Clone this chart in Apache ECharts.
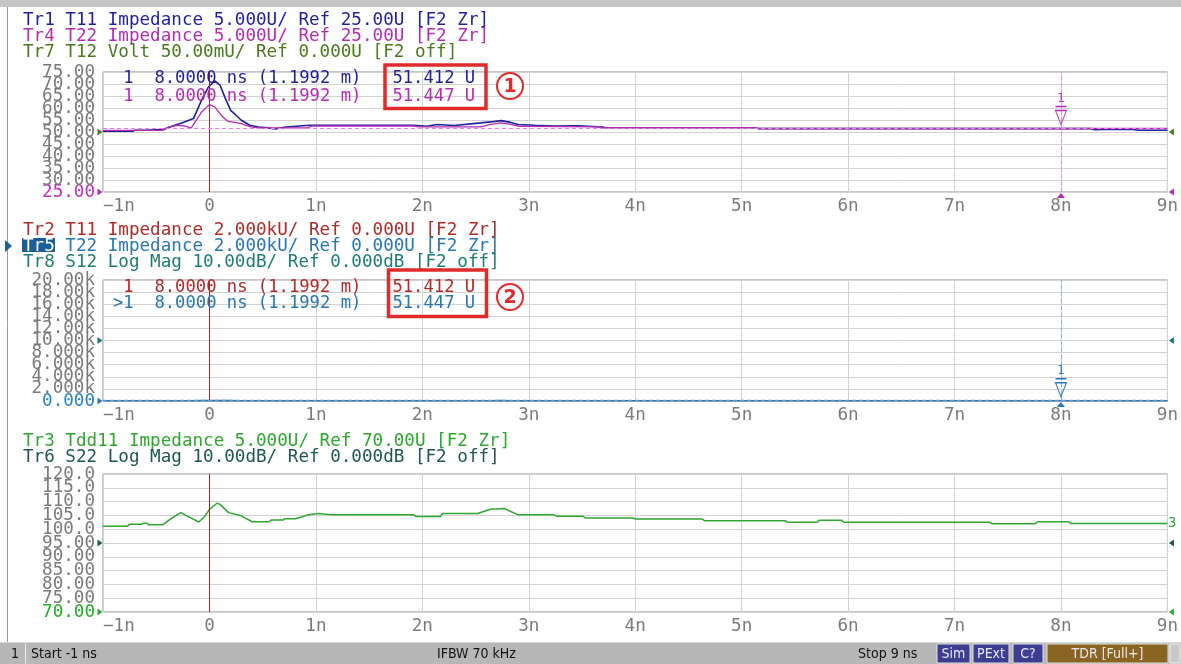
<!DOCTYPE html>
<html><head><meta charset="utf-8">
<script src="https://cdn.jsdelivr.net/npm/echarts@6.0.0/dist/echarts.min.js"></script>
<style>html,body{margin:0;padding:0;background:#fff;overflow:hidden}#c{width:1181px;height:664px;}</style>
</head><body><div id="c"></div>
<script>
// ---------------- data ----------------
const xMin = -1, xMax = 9, xInterval = 1;
const xTickLabels = ['\u22121n','0','1n','2n','3n','4n','5n','6n','7n','8n','9n'];
const topTickLabels = ['25.00','30.00','35.00','40.00','45.00','50.00','55.00','60.00','65.00','70.00','75.00'];
const midTickLabels = ['0.000','2.000k','4.000k','6.000k','8.000k','10.00k','12.00k','14.00k','16.00k','18.00k','20.00k'];
const botTickLabels = ['70.00','75.00','80.00','85.00','90.00','95.00','100.0','105.0','110.0','115.0','120.0'];

// T11 impedance (Tr1 / Tr2), ns and U
const t11Time = [-1.0,-0.72,-0.70,-0.6,-0.43,-0.34,-0.26,-0.15,-0.075,-0.01,0.05,0.1,0.15,0.2,0.3,0.38,0.46,0.55,0.62,0.72,0.94,1.92,2.04,2.14,2.3,2.55,2.64,2.74,2.83,2.9,3.06,3.24,3.47,3.69,3.72,5.12,5.16,8.28,8.32,8.4,8.68,8.72,9.0];
const t11Values = [50.3,50.3,50.7,50.7,51.0,52.6,53.75,55.6,63.2,68.75,71.25,69.5,63.9,59.0,54.9,52.8,52.1,51.7,51.3,52.1,52.8,52.8,52.4,53.1,52.7,53.8,54.2,54.75,54.0,53.1,52.8,52.5,52.6,52.1,51.8,51.8,51.4,51.4,51.0,51.1,51.1,50.7,50.7];
// T22 impedance (Tr4 / Tr5)
const t22Time = [-1.0,-0.45,-0.38,-0.3,-0.24,-0.17,-0.075,0.0,0.05,0.11,0.17,0.3,0.39,0.46,0.92,0.96,1.92,1.96,2.55,2.64,2.74,2.83,2.9,3.69,3.72,5.12,5.16,9.0];
const t22Values = [50.7,50.7,52.1,52.8,52.6,51.7,58.3,61.4,60.5,57.0,54.5,53.5,52.1,51.7,51.7,52.5,52.5,52.1,52.1,53.2,53.8,53.2,52.4,52.1,51.8,51.8,51.45,51.45];
// Tdd11 impedance (Tr3)
const tdd11Time = [-1.0,-0.77,-0.75,-0.64,-0.62,-0.59,-0.57,-0.44,-0.36,-0.27,-0.18,-0.10,-0.04,0.0,0.07,0.10,0.18,0.29,0.40,0.56,0.58,0.69,0.71,0.81,0.94,1.03,1.14,1.32,1.33,1.38,1.92,1.94,2.17,2.19,2.52,2.64,2.77,2.90,3.24,3.26,3.51,3.53,3.98,4.0,4.63,4.65,5.41,5.43,5.71,5.73,5.94,5.96,7.33,7.35,7.76,7.78,8.07,8.09,9.0];
const tdd11Values = [101.1,101.1,101.75,101.75,102.2,102.2,101.6,101.6,103.8,106.0,104.2,102.6,104.8,107.2,109.4,109.0,106.0,105.0,102.7,102.7,103.3,103.3,103.8,103.8,105.3,105.7,105.2,105.2,105.6,105.2,105.2,104.6,104.6,105.7,105.7,107.2,107.5,105.2,105.2,104.7,104.7,104.1,104.1,103.7,103.7,103.1,103.1,102.5,102.5,103.2,103.2,102.5,102.5,102.0,102.0,102.7,102.7,102.1,102.1];

const markerTime = 8.0;
const markerT11 = 51.412;
const markerT22 = 51.447;

const headerTop = ['Tr1 T11 Impedance 5.000U/ Ref 25.00U [F2 Zr]','Tr4 T22 Impedance 5.000U/ Ref 25.00U [F2 Zr]','Tr7 T12 Volt 50.00mU/ Ref 0.000U [F2 off]'];
const headerMid = ['Tr2 T11 Impedance 2.000kU/ Ref 0.000U [F2 Zr]','Tr5 T22 Impedance 2.000kU/ Ref 0.000U [F2 Zr]','Tr8 S12 Log Mag 10.00dB/ Ref 0.000dB [F2 off]'];
const headerBot = ['Tr3 Tdd11 Impedance 5.000U/ Ref 70.00U [F2 Zr]','Tr6 S22 Log Mag 10.00dB/ Ref 0.000dB [F2 off]'];
const readoutT11 = ' 1  8.0000 ns (1.1992 m)   51.412 U';
const readoutT22 = ' 1  8.0000 ns (1.1992 m)   51.447 U';
const readoutT22b = '>1  8.0000 ns (1.1992 m)   51.447 U';

// ---------------- style ----------------
const MONO = "'DejaVu Sans Mono', monospace";
const FONT = "17.6px 'DejaVu Sans Mono', monospace";
const RFONT = "17.2px 'DejaVu Sans Mono', monospace";
const NARROW = "'Liberation Sans Narrow','DejaVu Sans Condensed','Arial Narrow',sans-serif";
const C = {
  tr1:'#1f1f9c', tr4:'#b32db3', tr7:'#4a7a1e', tr2:'#b02a2a', tr5:'#2876b2', tr8:'#1e7d72',
  tr3:'#2ea72e', tr6:'#1d5652', brown:'#8b2b2b', grid:'#d2d2d2', border:'#8c8c8c', lab:'#7a7a7a', red:'#e12b2b'
};
const zip = (a, b) => a.map((t, i) => [t, b[i]]);

const gridsDef = [
  {top:72, height:120},
  {top:280, height:121},
  {top:474, height:138}
];
const grid = gridsDef.map(g => ({left:103, width:1069, top:g.top, height:g.height, show:true, borderColor:C.border, borderWidth:1, backgroundColor:'transparent'}));

const xAxis = [0,1,2].map(i => ({
  type:'value', gridIndex:i, min:xMin, max:xMax, interval:xInterval,
  axisLine:{show:false}, axisTick:{show:false},
  splitLine:{show:true, lineStyle:{color:C.grid, width:1}},
  axisLabel:{margin:5, color:C.lab, fontFamily:MONO, fontSize:17.6, alignMinLabel:'left', showMinLabel:true, showMaxLabel:true,
    formatter: v => xTickLabels[Math.round((v - xMin) / xInterval)]}
}));

// value axes carry the data scale; category axes print every tick label (no overlap hiding)
function yVal(i, min, max, interval) {
  return {type:'value', gridIndex:i, min, max, interval,
    axisLine:{show:false}, axisTick:{show:false}, axisLabel:{show:false},
    splitLine:{show:true, lineStyle:{color:C.grid, width:1}}};
}
function yLab(i, labels, minColor) {
  return {type:'category', gridIndex:i, data:labels, boundaryGap:false, position:'left',
    axisLine:{show:false}, axisTick:{show:false}, splitLine:{show:false},
    axisLabel:{interval:0, margin:8, fontFamily:MONO, fontSize:17.6,
      color: (v) => (v === labels[0] ? minColor : C.lab)}};
}
const yAxis = [
  yVal(0, 25, 75, 5), yVal(1, 0, 20000, 2000), yVal(2, 70, 120, 5),
  yLab(0, topTickLabels, '#c02fc0'), yLab(1, midTickLabels, '#2a82c8'), yLab(2, botTickLabels, '#22ad22')
];

const noLabel = {show:false};
function triRight(coord, color) { return {coord, symbol:'triangle', symbolSize:[7,5], symbolRotate:-90, symbolOffset:[-3,0], itemStyle:{color}, label:noLabel}; }
function triLeft(coord, color) { return {coord, symbol:'triangle', symbolSize:[7,5], symbolRotate:90, symbolOffset:[4,0], itemStyle:{color}, label:noLabel}; }
function triUp(coord, color) { return {coord, symbol:'triangle', symbolSize:[8,5], symbolOffset:[0,3.5], itemStyle:{color}, label:noLabel}; }
function markerSym(coord, color) {
  return {coord, symbol:'path://M0,0L12,0M0,4L12,4L6,18Z', symbolSize:[11,18], symbolOffset:[0,-13],
    itemStyle:{color:'rgba(0,0,0,0)', borderColor:color, borderWidth:1.1},
    label:{show:true, formatter:'1', position:'top', distance:1, color, fontFamily:MONO, fontSize:12}};
}
const vLine0 = {xAxis:0, lineStyle:{type:'solid', color:C.brown, width:1}};

const series = [
  {name:'Tr1', type:'line', xAxisIndex:0, yAxisIndex:0, data:zip(t11Time, t11Values), showSymbol:false,
    lineStyle:{color:C.tr1, width:1.6}, z:3, animation:false},
  {name:'Tr4', type:'line', xAxisIndex:0, yAxisIndex:0, data:zip(t22Time, t22Values), showSymbol:false,
    lineStyle:{color:C.tr4, width:1.3}, z:4, animation:false,
    markLine:{silent:true, symbol:['none','none'], label:{show:false}, animation:false, data:[
      vLine0,
      {xAxis:markerTime, lineStyle:{type:[4,3], color:'#e98ae9', width:1}},
      {yAxis:markerT22, lineStyle:{type:[4,3], color:'#ef7cef', width:1}}
    ]},
    markPoint:{silent:true, animation:false, data:[
      markerSym([markerTime, markerT22], C.tr4),
      triUp([markerTime, 25], C.tr4),
      triRight([xMin, 25], C.tr4),
      triLeft([xMax, 25], C.tr4),
      triRight([xMin, 50], C.tr7),
      triLeft([xMax, 50], C.tr7)
    ]}},
  {name:'Tr2', type:'line', xAxisIndex:1, yAxisIndex:1, data:zip(t11Time, t11Values), showSymbol:false,
    lineStyle:{color:C.tr2, width:1.3}, z:3, animation:false},
  {name:'Tr5', type:'line', xAxisIndex:1, yAxisIndex:1, data:zip(t22Time, t22Values), showSymbol:false,
    lineStyle:{color:C.tr5, width:1.6}, z:4, animation:false,
    markLine:{silent:true, symbol:['none','none'], label:{show:false}, animation:false, data:[
      vLine0,
      {xAxis:markerTime, lineStyle:{type:[4,3], color:'#86aee6', width:1}},
      {yAxis:markerT22, lineStyle:{type:[4,3], color:'#5a9ee0', width:1.4}}
    ]},
    markPoint:{silent:true, animation:false, data:[
      markerSym([markerTime, markerT22], C.tr5),
      triUp([markerTime, 0], C.tr5),
      triRight([xMin, 0], C.tr5),
      triRight([xMin, 10000], C.tr8),
      triLeft([xMax, 10000], C.tr8)
    ]}},
  {name:'Tr3', type:'line', xAxisIndex:2, yAxisIndex:2, data:zip(tdd11Time, tdd11Values), showSymbol:false,
    lineStyle:{color:C.tr3, width:1.5}, z:4, animation:false,
    markLine:{silent:true, symbol:['none','none'], label:{show:false}, animation:false, data:[vLine0]},
    markPoint:{silent:true, animation:false, data:[
      triRight([xMin, 70], C.tr3),
      triLeft([xMax, 70], C.tr3),
      triRight([xMin, 95], C.tr6),
      triLeft([xMax, 95], C.tr6),
      {coord:[xMax, tdd11Values[tdd11Values.length-1]], symbol:'circle', symbolSize:1, itemStyle:{color:'rgba(0,0,0,0)'},
        label:{show:true, formatter:'3', position:'right', distance:0, color:C.tr3, fontFamily:MONO, fontSize:14}}
    ]}}
];

// ---------------- decorations (text) ----------------
function txt(x, y, text, fill, font, extra) {
  return Object.assign({type:'text', z:100, silent:true, style:{x, y, text, fill, font: font || FONT, verticalAlign:'middle', align:'left'}}, extra || {});
}
const g = [];
g.push({type:'rect', z:90, silent:true, shape:{x:0, y:0, width:1181, height:7}, style:{fill:'#c6c6c6'}});
g.push({type:'line', z:90, silent:true, shape:{x1:7.5, y1:7, x2:7.5, y2:642}, style:{stroke:'#9a9a9a', lineWidth:1}});
[[headerTop, [C.tr1, C.tr4, C.tr7], 20], [headerMid, [C.tr2, C.tr5, C.tr8], 230], [headerBot, [C.tr3, C.tr6], 441]].forEach(([lines, cols, y0]) => {
  lines.forEach((s, i) => g.push(txt(23, y0 + i * 16, s, cols[i])));
});
g.push({type:'rect', z:101, silent:true, shape:{x:22, y:238, width:33, height:14}, style:{fill:'#1b5f96'}});
g.push(txt(23, 246, 'Tr5', '#ffffff', null, {z:102}));
g.push({type:'polygon', z:101, silent:true, shape:{points:[[5,240],[12,246],[5,252]]}, style:{fill:'#1b5f96'}});
g.push(txt(113, 79, readoutT11, C.tr1, RFONT));
g.push(txt(113, 97, readoutT22, C.tr4, RFONT));
g.push(txt(113, 288, readoutT11, C.tr2, RFONT));
g.push(txt(113, 304, readoutT22b, C.tr5, RFONT));
g.push({type:'rect', z:103, silent:true, shape:{x:385, y:65, width:101, height:43.5}, style:{fill:'none', stroke:C.red, lineWidth:3.5}});
g.push({type:'rect', z:103, silent:true, shape:{x:388.5, y:270, width:98, height:46.5}, style:{fill:'none', stroke:C.red, lineWidth:3.5}});
[[510, 86, '1'], [510, 297, '2']].forEach(([cx, cy, s]) => {
  g.push({type:'circle', z:103, silent:true, shape:{cx, cy, r:13}, style:{fill:'#fff', stroke:C.red, lineWidth:2}});
  g.push({type:'text', z:104, silent:true, style:{x:cx, y:cy + 1, text:s, fill:C.red, font:"bold 19px 'DejaVu Sans', sans-serif", align:'center', verticalAlign:'middle'}});
});
g.push({type:'rect', z:90, silent:true, shape:{x:0, y:642, width:1181, height:22}, style:{fill:'#b7b7b7'}});
g.push({type:'line', z:91, silent:true, shape:{x1:0, y1:642.5, x2:1181, y2:642.5}, style:{stroke:'#d8d8d8', lineWidth:1}});
g.push({type:'line', z:91, silent:true, shape:{x1:25.5, y1:643, x2:25.5, y2:664}, style:{stroke:'#e8e8e8', lineWidth:1}});
const sbFont = "14px " + NARROW;
g.push(txt(11, 654, '1', '#111', sbFont));
g.push(txt(31, 654, 'Start -1 ns', '#111', sbFont));
g.push(txt(437, 654, 'IFBW 70 kHz', '#111', sbFont));
g.push(txt(858, 654, 'Stop 9 ns', '#111', sbFont));
[[937, 33, 'Sim', '#3d3d92'], [973, 36, 'PExt', '#3d3d92'], [1013, 30, 'C?', '#3d3d92'], [1047, 121, 'TDR [Full+]', '#8a6421']].forEach(([x, w, s, f]) => {
  g.push({type:'rect', z:92, silent:true, shape:{x, y:644, width:w, height:19}, style:{fill:f, stroke:'#e0e0e0', lineWidth:1}});
  g.push({type:'text', z:93, silent:true, style:{x:x + w / 2, y:654, text:s, fill:'#e8e8f4', font:sbFont, align:'center', verticalAlign:'middle'}});
});
g.push({type:'rect', z:92, silent:true, shape:{x:1170, y:644, width:10, height:19}, style:{fill:'#c8c8c8', stroke:'#efefef', lineWidth:1}});

const chart = echarts.init(document.getElementById('c'), null, {renderer:'canvas', width:1181, height:664});
chart.setOption({animation:false, backgroundColor:'#ffffff', grid, xAxis, yAxis, series, graphic:g});
</script>
</body></html>
